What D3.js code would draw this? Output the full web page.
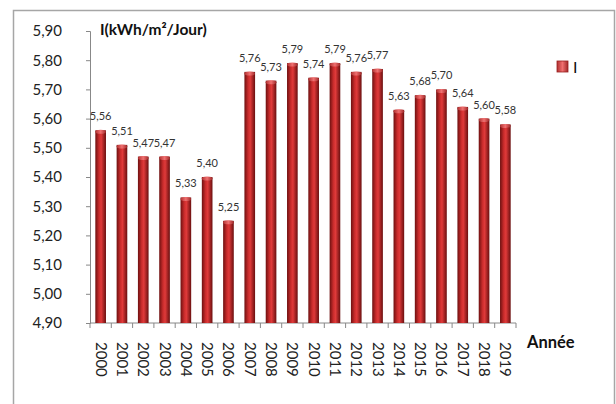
<!DOCTYPE html>
<html>
<head>
<meta charset="utf-8">
<script src="https://cdn.jsdelivr.net/npm/d3@7"></script>
<style>
  body { margin: 0; background: #fff; }
  text { font-family: Lato, "Liberation Sans", sans-serif; }
</style>
</head>
<body>
<div id="chart"></div>
<script>
// data
var years = ["2000", "2001", "2002", "2003", "2004", "2005", "2006", "2007", "2008", "2009",
             "2010", "2011", "2012", "2013", "2014", "2015", "2016", "2017", "2018", "2019"];
var values = [5.56, 5.51, 5.47, 5.47, 5.33, 5.40, 5.25, 5.76, 5.73, 5.79,
              5.74, 5.79, 5.76, 5.77, 5.63, 5.68, 5.70, 5.64, 5.60, 5.58];
var yTicks = [4.90, 5.00, 5.10, 5.20, 5.30, 5.40, 5.50, 5.60, 5.70, 5.80, 5.90];

var W = 616, H = 404;
var margin = { top: 31, left: 90, right: 100, bottom: 81 };

var svg = d3.select("#chart")
    .append("svg")
    .attr("width", W)
    .attr("height", H);

// frame
svg.append("rect")
    .attr("x", 13.5).attr("y", 10.5)
    .attr("width", 601).attr("height", 410)
    .attr("fill", "none")
    .attr("stroke", "#a6a6a6")
    .attr("stroke-width", 1.5);

var fmt = function (v) { return v.toFixed(2).replace(".", ","); };

var x = d3.scaleBand()
    .domain(years)
    .range([margin.left, 516])
    .paddingInner(0.5)
    .paddingOuter(0.25);

var y = d3.scaleLinear()
    .domain([4.9, 5.9])
    .range([323, margin.top]);

// gradient for the cylinder look
var defs = svg.append("defs");
var grad = defs.append("linearGradient").attr("id", "barGrad")
    .attr("x1", "0%").attr("x2", "100%").attr("y1", "0%").attr("y2", "0%");
grad.append("stop").attr("offset", "0%").attr("stop-color", "#6e1010");
grad.append("stop").attr("offset", "35%").attr("stop-color", "#c92c2c");
grad.append("stop").attr("offset", "55%").attr("stop-color", "#e03a3a");
grad.append("stop").attr("offset", "100%").attr("stop-color", "#6a0f0f");

var capGrad = defs.append("linearGradient").attr("id", "capGrad")
    .attr("x1", "0%").attr("x2", "100%");
capGrad.append("stop").attr("offset", "0%").attr("stop-color", "#b03030");
capGrad.append("stop").attr("offset", "50%").attr("stop-color", "#f07070");
capGrad.append("stop").attr("offset", "100%").attr("stop-color", "#a02828");

// Y axis
var yAxis = svg.append("g")
    .attr("transform", "translate(" + margin.left + ",0)")
    .call(d3.axisLeft(y).tickValues(yTicks).tickFormat(fmt).tickSize(4).tickPadding(24));
yAxis.select(".domain").attr("stroke", "#888");
yAxis.selectAll(".tick line").attr("stroke", "#888");
yAxis.selectAll(".tick text")
    .attr("font-size", "15px")
    .attr("fill", "#222");

// X axis, ticks between the bands
var xAxis = svg.append("g")
    .attr("transform", "translate(0,323)");
xAxis.append("line")
    .attr("x1", margin.left).attr("x2", 516)
    .attr("stroke", "#888");
xAxis.selectAll(".sep")
    .data(d3.range(years.length + 1))
    .enter()
    .append("line")
    .attr("x1", function (i) { return margin.left + i * (516 - margin.left) / years.length; })
    .attr("x2", function (i) { return margin.left + i * (516 - margin.left) / years.length; })
    .attr("y1", 0).attr("y2", 5)
    .attr("stroke", "#888");
xAxis.selectAll(".yr")
    .data(years)
    .enter()
    .append("text")
    .attr("transform", function (d) {
        return "translate(" + (x(d) + x.bandwidth() / 2 - 5) + ",19) rotate(90)";
    })
    .attr("font-size", "15px")
    .attr("fill", "#222")
    .text(function (d) { return d; });

// bars
var bars = svg.append("g");
bars.selectAll("rect")
    .data(values)
    .enter()
    .append("rect")
    .attr("x", function (d, i) { return x(years[i]); })
    .attr("y", function (d) { return y(d); })
    .attr("width", x.bandwidth())
    .attr("height", function (d) { return y(4.9) - y(d); })
    .attr("fill", "url(#barGrad)");
bars.selectAll("ellipse")
    .data(values)
    .enter()
    .append("ellipse")
    .attr("cx", function (d, i) { return x(years[i]) + x.bandwidth() / 2; })
    .attr("cy", function (d) { return y(d) + 1.5; })
    .attr("rx", x.bandwidth() / 2)
    .attr("ry", 2)
    .attr("fill", "url(#capGrad)");

// value labels
svg.append("g").selectAll("text")
    .data(values)
    .enter()
    .append("text")
    .attr("x", function (d, i) { return x(years[i]) + x.bandwidth() / 2; })
    .attr("y", function (d) { return y(d) - 10; })
    .attr("text-anchor", "middle")
    .attr("font-size", "11px")
    .attr("fill", "#333")
    .text(fmt);

// axis titles
svg.append("text")
    .attr("x", 100).attr("y", 35)
    .attr("font-size", "15.5px")
    .attr("font-weight", "bold")
    .attr("fill", "#111")
    .text("I(kWh/m²/Jour)");

svg.append("text")
    .attr("x", 527).attr("y", 348)
    .attr("font-size", "16.5px")
    .attr("font-weight", "bold")
    .attr("fill", "#111")
    .text("Année");

// legend
svg.append("rect")
    .attr("x", 557).attr("y", 61)
    .attr("width", 11).attr("height", 11)
    .attr("fill", "url(#capGrad)")
    .attr("stroke", "#9a1e1e")
    .attr("stroke-width", 0.8);
svg.append("text")
    .attr("x", 573).attr("y", 73)
    .attr("font-size", "16px")
    .attr("fill", "#111")
    .text("I");
</script>
</body>
</html>
